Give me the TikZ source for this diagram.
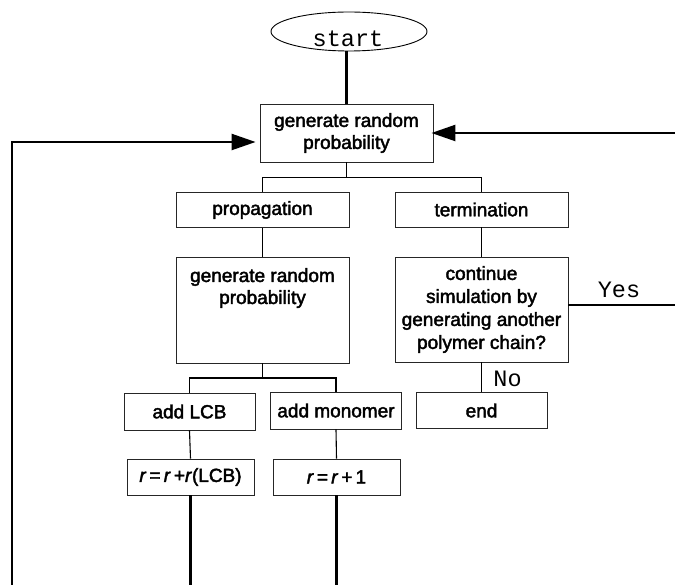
\documentclass[tikz,border=0pt]{standalone}
\usepackage{fontspec}
\setmainfont{Liberation Sans}[RawFeature={embolden=2.2}]
\newfontfamily\monofont{Liberation Mono}
\usetikzlibrary{arrows.meta,shapes.geometric}
\tikzset{
  box/.style={draw=black!85, line width=0.8pt, inner sep=0pt, align=center,
    font=\fontsize{19}{22}\selectfont},
  plaintext/.style={inner sep=0pt, align=center, font=\fontsize{19}{22}\selectfont},
  tree/.style={draw=black, line width=1.1pt},
  loopline/.style={draw=black, line width=2.3pt},
  arr/.style={-{Triangle[length=24pt,width=16pt]}},
  lbl/.style={font=\monofont\fontsize{23.5}{26}\selectfont, inner sep=0pt, anchor=base},
}
\begin{document}
\begin{tikzpicture}[x=1pt,y=-1pt]
\useasboundingbox (0,0) rectangle (675,585);
\clip (0,0) rectangle (675,585);

% start
\node[ellipse, draw=black, line width=0.9pt, minimum width=156pt, minimum height=39pt, inner sep=0pt] (start) at (349,31.5) {};
\node[lbl] (startt) at (348,46.5) {start};

% boxes
\node[box, minimum width=173pt, minimum height=58pt] (gen1) at (346.5,133) {generate random\\probability};
\node[box, minimum width=173pt, minimum height=35pt] (prop) at (262.5,210) {propagation};
\node[box, minimum width=173pt, minimum height=35pt] (term) at (481.5,209.5) {termination};
\node[box, minimum width=173pt, minimum height=106pt] (gen2) at (262.5,310) {};
\node[plaintext, anchor=north] (gen2t) at (262.5,268) {generate random\\probability};
\node[box, minimum width=173pt, minimum height=105pt, font=\fontsize{19}{23}\selectfont] (cont) at (481.5,309.5) {continue\\simulation by\\generating another\\polymer chain?};
\node[box, minimum width=131pt, minimum height=37pt] (lcb) at (189.5,411.5) {add LCB};
\node[box, minimum width=131pt, minimum height=37pt] (mono) at (336,410.5) {add monomer};
\node[box, minimum width=131pt, minimum height=36pt] (end) at (481.5,410.5) {end};
\node[box, minimum width=127pt, minimum height=36pt] (rl) at (190.5,477) {\textit{r}\,=\,\textit{r}\,+\textit{r}(LCB)};
\node[box, minimum width=127pt, minimum height=36pt] (rm) at (336.5,477) {\textit{r}\,=\,\textit{r}\,+\,1};

% labels
\node[lbl] (yes) at (619,298) {Yes};
\node[lbl] (no) at (507.5,387) {No};

% helper coordinates
\coordinate (b1) at (346.5,177.5);
\coordinate (b2) at (262.5,378);
\coordinate (edgeR) at (684,305);
\coordinate (edgeBL) at (12,594);

% connectors
\draw[loopline] (gen1.north) -- (gen1.north |- start.south);
\draw[tree] (gen1.south) -- (b1);
\draw[tree] (prop.north) |- (term.north |- b1) -- (term.north);
\draw[tree] (prop.south) -- (gen2.north);
\draw[tree] (term.south) -- (cont.north);
\draw[tree] (gen2.south) -- (b2);
\draw[tree] (lcb.north) |- (mono.north |- b2) -- (mono.north);
\draw[tree] (lcb.south) -- (rl.north);
\draw[tree] (mono.south) -- (rm.north);
\draw[tree] (cont.south) -- (end.north);

\draw[loopline, arr, shorten >=-2pt] (cont.east |- edgeR) -- (edgeR) |- (gen1.east);
\draw[loopline] (rl.south) -- (rl.south |- edgeBL);
\draw[loopline, arr, shorten >=4pt] (rm.south) -- (rm.south |- edgeBL) -- (edgeBL) |- ([yshift=-9pt]gen1.west);
\end{tikzpicture}
\end{document}
